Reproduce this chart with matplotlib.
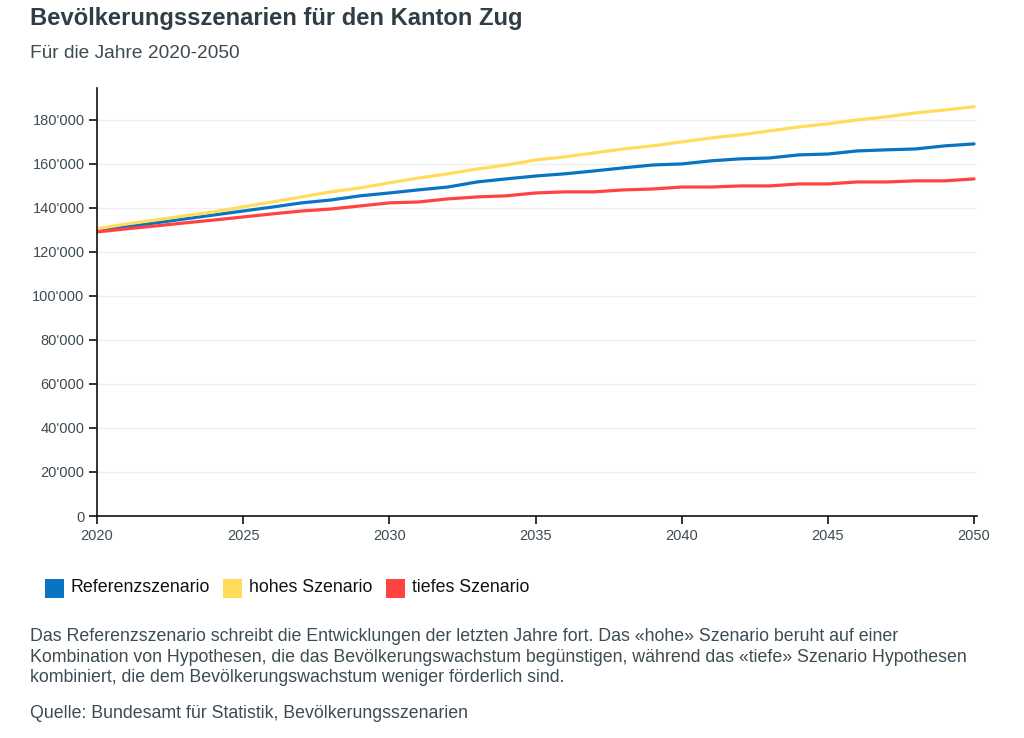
import matplotlib
matplotlib.use("Agg")
import matplotlib.pyplot as plt
from matplotlib.ticker import FuncFormatter, MultipleLocator
from matplotlib.patches import Rectangle

plt.rcParams['font.family'] = ['Liberation Sans', 'DejaVu Sans']

years = list(range(2020, 2051))
referenz = [130.0, 131.4, 133.2, 135.0, 136.8, 138.6, 140.4, 142.3, 143.6, 145.5,
            146.8, 148.2, 149.5, 151.8, 153.2, 154.5, 155.5, 156.8, 158.2, 159.5,
            160.0, 161.4, 162.3, 162.7, 164.1, 164.5, 165.9, 166.4, 166.8, 168.2, 169.1]
hohes = [130.5, 132.7, 134.5, 136.4, 138.2, 140.5, 142.7, 145.0, 147.3, 149.1,
         151.4, 153.6, 155.5, 157.7, 159.5, 161.8, 163.2, 165.0, 166.8, 168.2,
         170.0, 171.8, 173.2, 175.0, 176.8, 178.2, 180.0, 181.4, 183.2, 184.5, 186.0]
tiefes = [129.1, 130.5, 131.8, 133.2, 134.5, 135.9, 137.3, 138.6, 139.5, 140.9,
          142.3, 142.7, 144.1, 145.0, 145.5, 146.8, 147.3, 147.3, 148.2, 148.6,
          149.5, 149.5, 150.0, 150.0, 150.9, 150.9, 151.8, 151.8, 152.3, 152.3, 153.2]
series_names = ["Referenzszenario", "hohes Szenario", "tiefes Szenario"]
colors = ["#0a74c4", "#ffdc5a", "#ff4242"]

fig = plt.figure(figsize=(10.24, 7.38), dpi=100)
ax = fig.add_axes([97/1024, 1 - 516/738, 880/1024, (516 - 88)/738])

for vals, c in zip([referenz, hohes, tiefes], colors):
    ax.plot(years, [v * 1000 for v in vals], color=c, lw=2.3, solid_capstyle='round')

ax.set_xlim(2020, 2050.1)
ax.set_ylim(0, 194500)
ax.yaxis.set_major_locator(MultipleLocator(20000))
ax.xaxis.set_major_locator(MultipleLocator(5))
ax.yaxis.set_major_formatter(FuncFormatter(lambda v, p: f"{int(v):,}".replace(",", "'")))
ax.grid(axis='y', color='#efefef', lw=1)
ax.set_axisbelow(True)
for s in ['top', 'right']:
    ax.spines[s].set_visible(False)
for s in ['left', 'bottom']:
    ax.spines[s].set_color('#111111')
    ax.spines[s].set_linewidth(1.2)
ax.tick_params(axis='both', direction='out', length=6, width=1.2, color='#111111',
               labelcolor='#3d4b52', labelsize=10.5, pad=3)

tc = '#2f3d44'
fig.text(30/1024, 1 - 18/738, "Bevölkerungsszenarien für den Kanton Zug", fontsize=17.1,
         fontweight='bold', color=tc, va='center', ha='left')
fig.text(30/1024, 1 - 53/738, "Für die Jahre 2020-2050", fontsize=13.8, color='#3d4b52',
         va='center', ha='left')

# legend
lx = 45
ly = 588
for name, c in zip(series_names, colors):
    fig.patches.append(Rectangle((lx/1024, 1 - (ly + 9.5)/738), 19/1024, 19/738,
                                 transform=fig.transFigure, facecolor=c, edgecolor='none'))
    t = fig.text((lx + 26)/1024, 1 - ly/738, name, fontsize=12.8, color='#111111',
                 va='center', ha='left')
    fig.canvas.draw()
    bb = t.get_window_extent()
    lx = bb.x1 + 13

foot = ("Das Referenzszenario schreibt die Entwicklungen der letzten Jahre fort. Das «hohe» Szenario beruht auf einer\n"
        "Kombination von Hypothesen, die das Bevölkerungswachstum begünstigen, während das «tiefe» Szenario Hypothesen\n"
        "kombiniert, die dem Bevölkerungswachstum weniger förderlich sind.")
fig.text(30/1024, 1 - 657/738, foot, fontsize=12.8, color='#3d4b52', va='center', ha='left',
         linespacing=1.28)
fig.text(30/1024, 1 - 714/738, "Quelle: Bundesamt für Statistik, Bevölkerungsszenarien",
         fontsize=12.8, color='#3d4b52', va='center', ha='left')

fig.savefig("out.png", dpi=100)
